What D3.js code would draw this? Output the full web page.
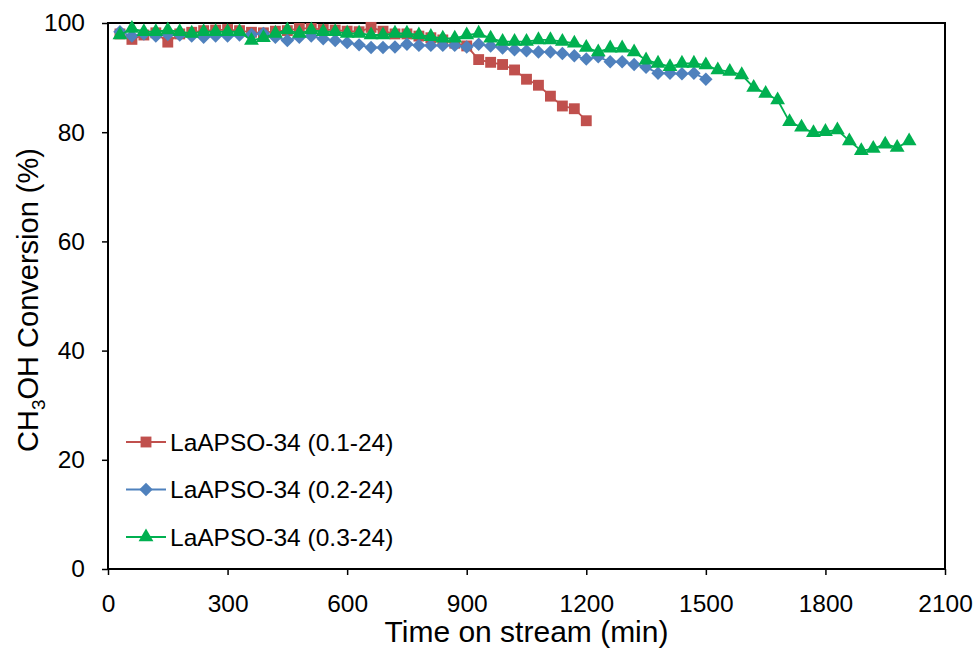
<!DOCTYPE html>
<html>
<head>
<meta charset="utf-8">
<script src="https://cdn.jsdelivr.net/npm/d3@7"></script>
<style>
  body { margin: 0; background: #fff; }
  text { font-family: Arial, 'Liberation Sans', sans-serif; fill: #000; }
</style>
</head>
<body>
<main></main>
<script>
// time on stream (min), one entry per sample
const timeMin = [
  30, 60, 90, 120, 150, 180, 210, 240, 270, 300,
  330, 360, 390, 420, 450, 480, 510, 540, 570, 600,
  630, 660, 690, 720, 750, 780, 810, 840, 870, 900,
  930, 960, 990, 1020, 1050, 1080, 1110, 1140, 1170, 1200,
  1230, 1260, 1290, 1320, 1350, 1380, 1410, 1440, 1470, 1500,
  1530, 1560, 1590, 1620, 1650, 1680, 1710, 1740, 1770, 1800,
  1830, 1860, 1890, 1920, 1950, 1980, 2010
];

// CH3OH conversion (%)
const conv01 = [
  98.0, 97.0, 97.8, 98.2, 96.5, 98.0, 98.3, 98.6, 98.7, 98.8,
  98.6, 98.3, 98.2, 98.5, 98.6, 99.0, 99.0, 98.8, 98.7, 98.5,
  98.4, 99.2, 98.5, 98.0, 98.0, 97.6, 97.3, 96.9, 96.3, 95.8,
  93.3, 92.8, 92.4, 91.4, 89.7, 88.6, 86.6, 84.8, 84.3, 82.1
];
const conv02 = [
  98.4, 97.6, 98.0, 97.6, 97.9, 97.8, 97.6, 97.4, 97.6, 97.6,
  97.8, 97.9, 98.1, 97.4, 96.8, 97.4, 97.6, 97.1, 96.8, 96.4,
  96.0, 95.5, 95.5, 95.6, 96.1, 95.9, 95.9, 95.9, 95.9, 95.6,
  96.1, 95.8, 95.4, 95.1, 94.9, 94.7, 94.7, 94.4, 94.0, 93.4,
  93.8, 92.9, 92.9, 92.4, 91.9, 90.8, 90.8, 90.7, 90.8, 89.7
];
const conv03 = [
  97.8, 99.0, 98.4, 98.4, 98.7, 98.4, 98.1, 98.4, 98.4, 98.4,
  98.4, 96.8, 97.3, 98.1, 98.7, 98.1, 98.7, 98.4, 98.4, 98.1,
  98.1, 97.8, 97.8, 98.1, 98.1, 97.8, 97.5, 97.2, 97.2, 97.8,
  98.1, 97.2, 96.6, 96.6, 96.6, 96.9, 96.9, 96.6, 96.3, 95.5,
  94.7, 95.4, 95.4, 94.7, 93.2, 92.6, 92.0, 92.6, 92.6, 92.3,
  91.4, 91.1, 90.5, 88.2, 87.1, 85.9, 81.9, 80.9, 79.9, 80.1,
  80.4, 78.4, 76.6, 77.0, 77.8, 77.2, 78.4
];

const seriesNames = ['LaAPSO-34 (0.1-24)', 'LaAPSO-34 (0.2-24)', 'LaAPSO-34 (0.3-24)'];
const xTicks = [0, 300, 600, 900, 1200, 1500, 1800, 2100];
const yTicks = [0, 20, 40, 60, 80, 100];

const width = 978;
const height = 650;
const margin = { top: 23, right: 33, bottom: 81, left: 108 };

const series = [
  { name: seriesNames[0], values: conv01, color: '#C0504D', shape: 'square' },
  { name: seriesNames[1], values: conv02, color: '#4F81BD', shape: 'diamond' },
  { name: seriesNames[2], values: conv03, color: '#00B050', shape: 'triangle' }
];

const symbolPath = {
  square: d3.symbol(d3.symbolSquare, 118)(),
  diamond: d3.symbol(d3.symbolSquare, 90)(),
  triangle: d3.symbol(d3.symbolTriangle, 95)()
};
const symbolRotate = { square: 0, diamond: 45, triangle: 0 };

const svg = d3.select('main')
  .append('svg')
  .attr('width', width)
  .attr('height', height)
  .style('display', 'block');

const x = d3.scaleLinear()
  .domain([0, 2100])
  .range([margin.left, width - margin.right]);

const y = d3.scaleLinear()
  .domain([0, 100])
  .range([height - margin.bottom, margin.top]);

// Axes
const xAxis = svg.append('g')
  .attr('transform', `translate(0, ${height - margin.bottom})`)
  .call(d3.axisBottom(x).tickValues(xTicks).tickFormat(d3.format('d'))
    .tickSize(6).tickSizeOuter(0).tickPadding(20))

const yAxis = svg.append('g')
  .attr('transform', `translate(${margin.left}, 0)`)
  .call(d3.axisLeft(y).tickValues(yTicks).tickFormat(d3.format('d'))
    .tickSize(6).tickSizeOuter(0).tickPadding(17))

for (const ax of [xAxis, yAxis]) {
  ax.select('.domain').remove();
  ax.selectAll('.tick line').attr('stroke', '#000').attr('stroke-width', 1.5);
  ax.selectAll('.tick text')
    .style('font-size', '24.5px')
    .style('font-family', 'Arial, "Liberation Sans", sans-serif')
    .attr('fill', '#000');
}

// Plot frame
svg.append('rect')
  .attr('x', x(0))
  .attr('y', y(100))
  .attr('width', x(2100) - x(0))
  .attr('height', y(0) - y(100))
  .attr('fill', 'none')
  .attr('stroke', '#000')
  .attr('stroke-width', 2);

// Series
const line = d3.line()
  .x((d, i) => x(timeMin[i]))
  .y(d => y(d));

series.forEach(s => {
  const g = svg.append('g');
  g.append('path')
    .datum(s.values)
    .attr('d', line)
    .attr('fill', 'none')
    .attr('stroke', s.color)
    .attr('stroke-width', 1.8);
  g.selectAll('path.mark')
    .data(s.values)
    .enter()
    .append('path')
    .attr('class', 'mark')
    .attr('d', symbolPath[s.shape])
    .attr('transform', (d, i) => `translate(${x(timeMin[i])}, ${y(d)}) rotate(${symbolRotate[s.shape]})`)
    .attr('fill', s.color);
});

// Legend
const legend = svg.append('g')
  .selectAll('g')
  .data(series)
  .enter()
  .append('g')
  .attr('transform', (d, i) => `translate(126, ${442 + i * 47.5})`);

legend.append('line')
  .attr('x1', 0)
  .attr('x2', 40)
  .attr('stroke', d => d.color)
  .attr('stroke-width', 1.8);

legend.append('path')
  .attr('d', d => symbolPath[d.shape])
  .attr('transform', d => `translate(20, 0) rotate(${symbolRotate[d.shape]})`)
  .attr('fill', d => d.color);

legend.append('text')
  .text(d => d.name)
  .attr('x', 44)
  .attr('dy', '0.35em')
  .style('font-size', '24.5px');

// Axis titles
svg.append('text')
  .attr('x', (x(0) + x(2100)) / 2)
  .attr('y', 642)
  .attr('text-anchor', 'middle')
  .style('font-size', '30px')
  .text('Time on stream (min)');

const yTitle = svg.append('text')
  .attr('transform', `translate(38, ${(y(0) + y(100)) / 2 + 4}) rotate(-90)`)
  .attr('text-anchor', 'middle')
  .style('font-size', '29px');

yTitle.append('tspan').text('CH');
yTitle.append('tspan').text('3').style('font-size', '19px').attr('dy', 7);
yTitle.append('tspan').text('OH Conversion (%)').attr('dy', -7);
</script>
</body>
</html>
